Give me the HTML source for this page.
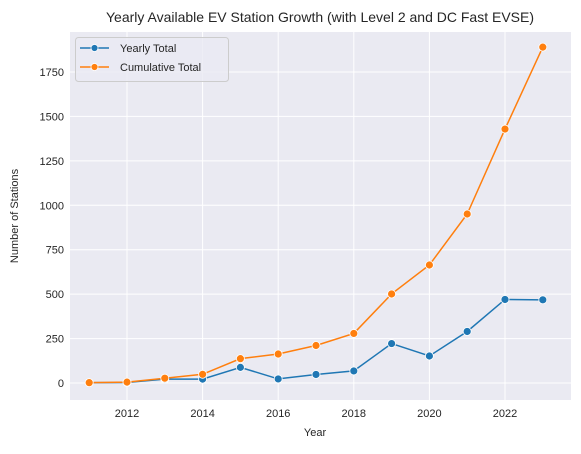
<!DOCTYPE html>
<html><head><meta charset="utf-8"><style>
body{margin:0;background:#fff;font-family:"Liberation Sans",Arial,sans-serif}
svg text{font-family:"Liberation Sans",Arial,sans-serif;fill:#262626}
</style></head><body>
<svg id="chart" width="581" height="449">
<text x="320" y="22" font-size="14" text-anchor="middle">Yearly Available EV Station Growth (with Level 2 and DC Fast EVSE)</text>
<rect x="70" y="32" width="501" height="368" fill="#eaeaf2"/>
<g id="grid"></g><g id="ticks"></g><g id="series"></g>
<text x="315" y="436" font-size="11" text-anchor="middle">Year</text>
<text transform="translate(18,216) rotate(-90)" font-size="11" text-anchor="middle">Number of Stations</text>
<g>
<rect x="75.5" y="37.5" width="153" height="44" rx="3" fill="#eaeaf2" fill-opacity="0.8" stroke="#ccc"/>
<g><line x1="80" y1="48" x2="109" y2="48" stroke="#1f77b4" stroke-width="1.5"/><circle cx="94.5" cy="48" r="3.5" fill="#1f77b4" stroke="#fff" stroke-width="0.8"/><text x="120" y="52" font-size="11">Yearly Total</text></g>
<g><line x1="80" y1="67" x2="109" y2="67" stroke="#ff7f0e" stroke-width="1.5"/><circle cx="94.5" cy="67" r="3.5" fill="#ff7f0e" stroke="#fff" stroke-width="0.8"/><text x="120" y="71" font-size="11">Cumulative Total</text></g>
</g>
</svg>
<script>
const years=[2011,2012,2013,2014,2015,2016,2017,2018,2019,2020,2021,2022,2023];
const yearly=[2,3,22,22,88,23,48,68,222,152,290,470,468];
const cumulative=[2,5,27,49,137,163,211,279,501,664,951,1429,1890];
const xTicks=[2012,2014,2016,2018,2020,2022];
const yTicks=[0,250,500,750,1000,1250,1500,1750];
const NS="http://www.w3.org/2000/svg";
const X=v=>127+(v-2012)*37.8;
const Y=v=>383-v*(311/1750);
function mk(t,a,p){const e=document.createElementNS(NS,t);for(const k in a)e.setAttribute(k,a[k]);p.appendChild(e);return e;}
const g=document.getElementById('grid'),tk=document.getElementById('ticks'),s=document.getElementById('series');
xTicks.forEach(v=>{const l=mk('line',{x1:X(v),x2:X(v),y1:32,y2:400,stroke:'#fff','stroke-width':1},g);


const t=mk('text',{x:X(v),y:417,'font-size':11,'text-anchor':'middle'},tk);t.textContent=v;

});
yTicks.forEach(v=>{const l=mk('line',{x1:70,x2:571,y1:Y(v),y2:Y(v),stroke:'#fff','stroke-width':1},g);


const t=mk('text',{x:64,y:Y(v)+4,'font-size':11,'text-anchor':'end'},tk);t.textContent=v;

});
[[yearly,'#1f77b4','yearly'],[cumulative,'#ff7f0e','cumulative']].forEach(([d,c,n])=>{
const p=mk('polyline',{points:d.map((v,i)=>X(years[i])+','+Y(v)).join(' '),fill:'none',stroke:c,'stroke-width':1.5},s);


d.forEach((v,i)=>{const m=mk('circle',{cx:X(years[i]),cy:Y(v),r:4,fill:c,stroke:'#fff','stroke-width':0.8},s);

});});
</script>
</body></html>
